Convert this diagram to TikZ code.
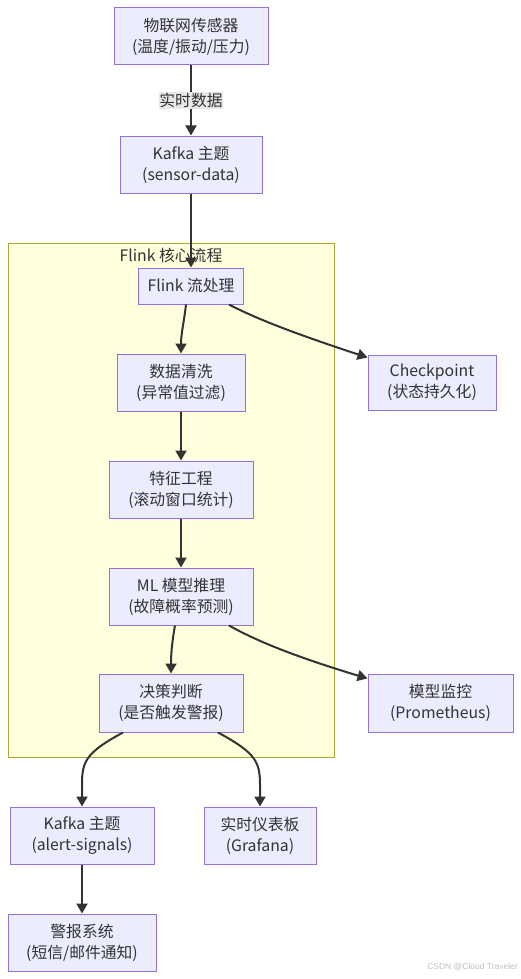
\documentclass[tikz,border=0pt]{standalone}
\usepackage{fontspec}
\setmainfont{Noto Sans CJK SC}
\newfontfamily\wmfont{Liberation Sans}
\usetikzlibrary{arrows.meta}
\definecolor{nodefill}{HTML}{ECECFF}
\definecolor{nodeborder}{HTML}{9370DB}
\definecolor{txt}{HTML}{333333}
\definecolor{clfill}{HTML}{FFFFDE}
\definecolor{clborder}{HTML}{AAAA33}
\definecolor{edgecol}{HTML}{333333}
\definecolor{lblbg}{HTML}{E8E8E8}
\tikzset{
  box/.style={draw=nodeborder, fill=nodefill, line width=1pt, inner sep=0pt,
    align=center, text=txt, font=\fontsize{15.8}{21}\selectfont},
  flow/.style={draw=edgecol, line width=2pt, -{Triangle[length=10pt,width=11pt]}},
  lbl/.style={fill=lblbg, text=txt, inner xsep=0pt, inner ysep=1pt, font=\fontsize{15.8}{18}\selectfont},
}
\begin{document}
\begin{tikzpicture}[x=1pt,y=-1pt]
\useasboundingbox (0,0) rectangle (521,979);
% cluster
\draw[fill=clfill, draw=clborder, line width=1pt] (8,243) rectangle (334,757);
\node[text=txt, font=\fontsize{15.8}{18}\selectfont] (cltitle) at (171,255) {Flink 核心流程};
% nodes
\node[box, minimum width=154pt, minimum height=57pt] (n1) at (191,36.5) {物联网传感器\\(温度/振动/压力)};
\node[box, minimum width=142pt, minimum height=57pt] (n2) at (191,164.5) {Kafka 主题\\(sensor-data)};
\node[box, minimum width=105pt, minimum height=36pt] (flink) at (191,286) {Flink 流处理};
\node[box, minimum width=128pt, minimum height=57pt] (clean) at (181,382.5) {数据清洗\\(异常值过滤)};
\node[box, minimum width=128pt, minimum height=55pt] (ckpt) at (432,382.5) {Checkpoint\\(状态持久化)};
\node[box, minimum width=144pt, minimum height=57pt] (feat) at (181,489.5) {特征工程\\(滚动窗口统计)};
\node[box, minimum width=144pt, minimum height=57pt] (ml) at (181,596.5) {ML 模型推理\\(故障概率预测)};
\node[box, minimum width=144pt, minimum height=58pt] (dec) at (171,703) {决策判断\\(是否触发警报)};
\node[box, minimum width=145pt, minimum height=58pt] (mon) at (440.5,703) {模型监控\\(Prometheus)};
\node[box, minimum width=144pt, minimum height=57pt] (kafka2) at (82,835.5) {Kafka 主题\\(alert-signals)};
\node[box, minimum width=112pt, minimum height=57pt] (dash) at (260,835.5) {实时仪表板\\(Grafana)};
\node[box, minimum width=148pt, minimum height=57pt] (alert) at (82,942.5) {警报系统\\(短信/邮件通知)};
% edges
\draw[flow] (n1) -- node[lbl] (l1) {实时数据} (n2);
\draw[flow] (n2) -- (flink);
\draw[flow] ([xshift=-5pt]flink.south) .. controls (184,322) and (181,334) .. (clean.north);
\draw[flow] ([xshift=38pt]flink.south) .. controls (255,318) and (290,332) .. ([yshift=-3pt]ckpt.north west);
\draw[flow] (clean) -- (feat);
\draw[flow] (feat) -- (ml);
\draw[flow] ([xshift=-6pt]ml.south) .. controls (172,642) and (171,654) .. (dec.north);
\draw[flow] ([xshift=48pt]ml.south) .. controls (255,640) and (290,655) .. ([yshift=-5pt]mon.north west);
\draw[flow] ([xshift=-48pt]dec.south) .. controls (85,753) and (82,762) .. (82,785) -- (kafka2.north);
\draw[flow] ([xshift=47pt]dec.south) .. controls (256,753) and (260,762) .. (260,785) -- (dash.north);
\draw[flow] (kafka2) -- (alert);
% watermark
\node[anchor=east, text=black!25, font=\wmfont\fontsize{8.5}{10}\selectfont, inner sep=0pt] (wm) at (518,967) {CSDN @Cloud Traveler};
\end{tikzpicture}
\end{document}
